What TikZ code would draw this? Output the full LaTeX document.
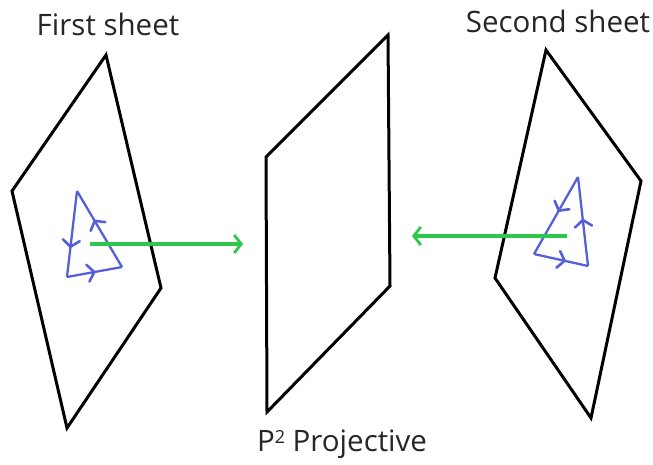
\documentclass[tikz,border=0pt]{standalone}
\usepackage{fontspec}
\setmainfont{Open Sans}
\usetikzlibrary{arrows.meta,decorations.markings}
\definecolor{triblue}{RGB}{85,95,215}
\definecolor{arrgreen}{RGB}{45,200,75}
\tikzset{
  sheet/.style={draw=black, line width=3pt, line join=miter},
  tri/.style={draw=triblue, line width=2.3pt, line join=round},
  triedge/.style={tri, postaction={decorate}, decoration={markings,
     mark=at position #1 with {\draw[triblue, line width=2.6pt, line cap=round, line join=miter] (-5pt,-8.5pt) -- (1.5pt,0pt) -- (-5pt,8.5pt);}}},
  maparrow/.style={draw=arrgreen, line width=3.2pt, -{Straight Barb[length=7pt,width=18pt,line width=2.8pt]}},
  lbl/.style={font=\fontsize{29.5}{32}\selectfont, text=black!85}
}
\begin{document}
\begin{tikzpicture}[x=1pt,y=-1pt]
\useasboundingbox (0,0) rectangle (653,464);
% sheets
\draw[sheet] (106,55) -- (12,191) -- (67,428) -- (161,288) -- cycle;
\draw[sheet] (388,35) -- (266,157) -- (267,412) -- (390,286) -- cycle;
\draw[sheet] (546,50) -- (641,181) -- (591,418) -- (495,278) -- cycle;
% left triangle
\coordinate (la) at (77,191);
\coordinate (lb) at (67,277);
\coordinate (lc) at (122,267);
\draw[triedge=0.63] (la) -- (lb);
\draw[triedge=0.47] (lb) -- (lc);
\draw[triedge=0.59] (lc) -- (la);
% right triangle
\coordinate (ra) at (578,177);
\coordinate (rb) at (534,254);
\coordinate (rc) at (588,266);
\draw[triedge=0.42] (ra) -- (rb);
\draw[triedge=0.54] (rb) -- (rc);
\draw[triedge=0.50] (rc) -- (ra);
% maps
\coordinate (ls) at (90,244);
\coordinate (le) at (243,244);
\coordinate (rs) at (567,236);
\coordinate (re) at (412,236);
\draw[maparrow] (ls) -- (le);
\draw[maparrow] (rs) -- (re);
% labels
\node[lbl] (first) at (108,24) {First sheet};
\node[lbl] (second) at (558,21) {Second sheet};
\node[lbl] (proj) at (342,444) {P\raisebox{0.5ex}{\fontsize{18}{20}\selectfont 2} Projective};
\end{tikzpicture}
\end{document}
